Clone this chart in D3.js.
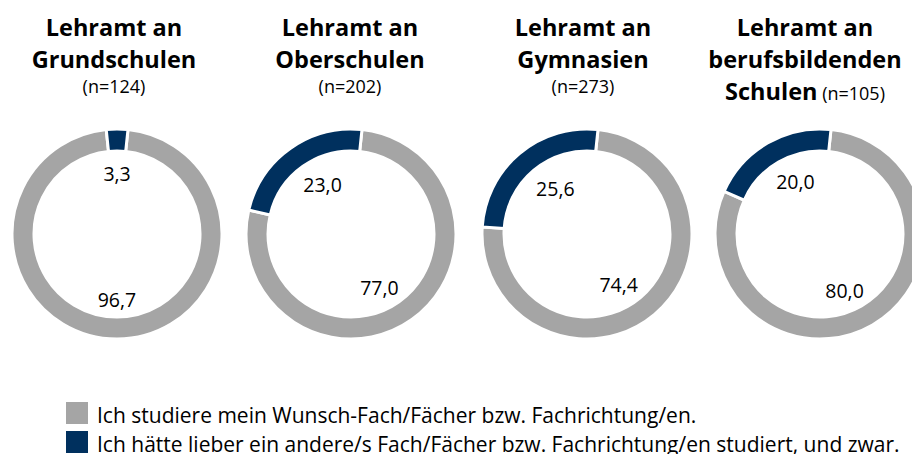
<!DOCTYPE html>
<html>
<head>
<meta charset="utf-8">
<script src="https://cdn.jsdelivr.net/npm/d3@7"></script>
<style>
  html, body { margin: 0; padding: 0; background: #fff; }
  svg { display: block; font-family: "Open Sans", sans-serif; }
</style>
</head>
<body>
<svg id="chart"></svg>
<script>
(function () {
    const width = 912, height = 454;

    // data
    const titles = [
        ["Lehramt an", "Grundschulen"],
        ["Lehramt an", "Oberschulen"],
        ["Lehramt an", "Gymnasien"],
        ["Lehramt an", "berufsbildenden", "Schulen"]
    ];
    const sampleSizes = ["(n=124)", "(n=202)", "(n=273)", "(n=105)"];
    const seriesNames = [
        "Ich studiere mein Wunsch-Fach/Fächer bzw. Fachrichtung/en.",
        "Ich hätte lieber ein andere/s Fach/Fächer bzw. Fachrichtung/en studiert, und zwar."
    ];
    const wunschFach = [96.7, 77.0, 74.4, 80.0];
    const anderesFach = [3.3, 23.0, 25.6, 20.0];

    const colors = ["#a5a5a5", "#00305e"];
    const fmt = v => d3.format(".1f")(v).replace(".", ",");

    const svg = d3.select("#chart")
        .attr("width", width)
        .attr("height", height);

    const centers = [117, 351, 587, 820];
    const titleX = [114, 350, 583, 805];
    const cy = 234, rOuter = 105, rInner = 83;
    const startAngle = 6 * Math.PI / 180;

    const pie = d3.pie().sort(null).value(d => d)
        .startAngle(startAngle).endAngle(startAngle + 2 * Math.PI);
    const arc = d3.arc().innerRadius(rInner).outerRadius(rOuter);
    const labelArc = d3.arc().innerRadius(63).outerRadius(63);

    wunschFach.forEach((v, i) => {
        const g = svg.append("g").attr("transform", `translate(${centers[i]},${cy})`);
        const arcs = pie([v, anderesFach[i]]);

        g.selectAll("path")
            .data(arcs)
            .enter()
            .append("path")
            .attr("d", arc)
            .attr("fill", (d, j) => colors[j])
            .attr("stroke", "#fff")
            .attr("stroke-width", 3);

        g.selectAll("text.val")
            .data(arcs)
            .enter()
            .append("text")
            .attr("class", "val")
            .attr("transform", d => {
                const [x, y] = labelArc.centroid(d);
                return `translate(${x * 0.78},${y + 3})`;
            })
            .attr("text-anchor", "middle")
            .attr("dy", "0.35em")
            .style("font-size", "19.5px")
            .text(d => fmt(d.data));

        // titles
        const t = svg.append("g").attr("transform", `translate(${titleX[i]},0)`);
        const lines = titles[i];
        lines.forEach((line, k) => {
            const txt = t.append("text")
                .attr("x", 0)
                .attr("y", 36 + k * 32)
                .attr("text-anchor", "middle")
                .style("font-size", "23.5px")
                .style("font-weight", "bold")
                .text(line);
            if (k === lines.length - 1 && lines.length === 3) {
                txt.append("tspan")
                    .style("font-size", "18px")
                    .style("font-weight", "normal")
                    .text(" " + sampleSizes[i]);
            }
        });
        if (lines.length < 3) {
            t.append("text")
                .attr("x", 0)
                .attr("y", 93)
                .attr("text-anchor", "middle")
                .style("font-size", "18px")
                .text(sampleSizes[i]);
        }
    });

    // legend
    const legend = svg.append("g").attr("transform", "translate(66,402)");
    seriesNames.forEach((name, i) => {
        const row = legend.append("g").attr("transform", `translate(0,${i * 29})`);
        row.append("rect")
            .attr("width", 22).attr("height", 22)
            .attr("fill", colors[i]);
        row.append("text")
            .attr("x", 31).attr("y", 21)
            .style("font-size", "21px")
            .text(name);
    });
})();
</script>
</body>
</html>
